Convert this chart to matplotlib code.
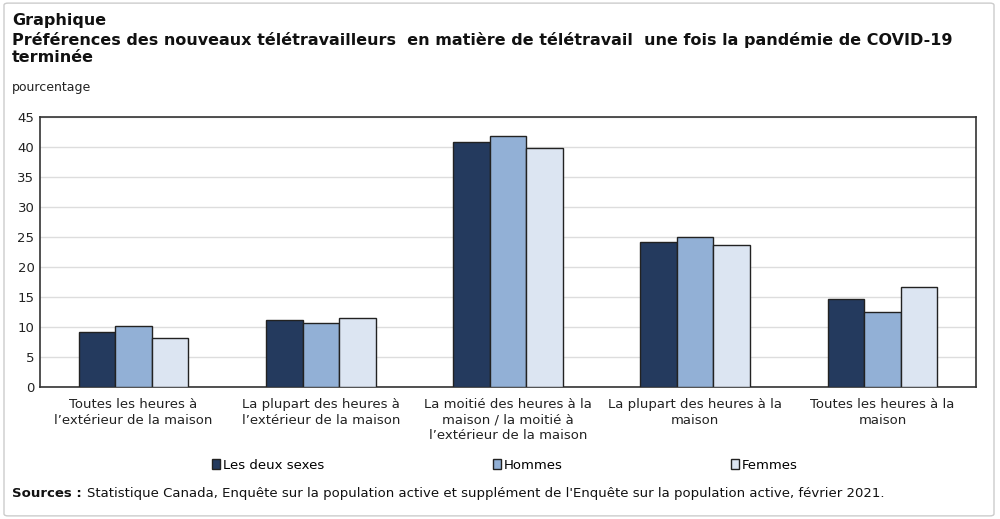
import matplotlib.pyplot as plt
import numpy as np
from matplotlib.patches import FancyBboxPatch

categories = [
    "Toutes les heures à\nl\u2019extérieur de la maison",
    "La plupart des heures à\nl\u2019extérieur de la maison",
    "La moitié des heures à la\nmaison / la moitié à\nl\u2019extérieur de la maison",
    "La plupart des heures à la\nmaison",
    "Toutes les heures à la\nmaison",
]
series_names = ["Les deux sexes", "Hommes", "Femmes"]
les_deux = [9.2, 11.2, 40.9, 24.2, 14.7]
hommes = [10.2, 10.6, 41.9, 25.0, 12.5]
femmes = [8.2, 11.5, 39.9, 23.6, 16.7]
yticks = list(range(0, 50, 5))

colors = ["#243a5e", "#92b0d6", "#dce5f2"]

plt.rcParams["font.family"] = ["DejaVu Sans"]

fig = plt.figure(figsize=(10, 5.19), dpi=100)
ax = fig.add_axes([0.04, 0.2543, 0.936, 0.5203])

# light rounded frame around the whole graphic
fig.patches.append(FancyBboxPatch((0.004, 0.006), 0.99, 0.988, boxstyle="round,pad=0,rounding_size=0.004",
                                  transform=fig.transFigure, fill=False, edgecolor="#cccccc", linewidth=1))

x = np.arange(len(categories))
w = 0.195
for k, vals in enumerate([les_deux, hommes, femmes]):
    ax.bar(x + (k - 1) * w, vals, w, color=colors[k], edgecolor="#222222",
           linewidth=1, label=series_names[k], zorder=3)

ax.set_xlim(-0.5, len(categories) - 0.5)
ax.set_ylim(0, 45)
ax.set_yticks(yticks)
ax.set_yticklabels([str(t) for t in yticks], fontsize=9.5, color="#222222")
ax.set_xticks(x)
ax.set_xticklabels(categories, fontsize=9.5, color="#222222", linespacing=1.25)
ax.tick_params(axis="both", length=0, pad=4)
ax.tick_params(axis="x", pad=8)
ax.yaxis.grid(True, color="#dddddd", linewidth=1, zorder=0)
for s in ax.spines.values():
    s.set_color("#333333")
    s.set_linewidth(1.2)

fig.text(0.012, 0.975, "Graphique", fontsize=11.5, fontweight="bold", va="top", color="#111111")
fig.text(0.012, 0.938,
         "Préférences des nouveaux télétravailleurs  en matière de télétravail  une fois la pandémie de COVID-19\nterminée",
         fontsize=11.5, fontweight="bold", va="top", color="#111111", linespacing=1.15)
fig.text(0.012, 0.832, "pourcentage", fontsize=9, va="center", color="#222222")

leg = fig.legend(loc="center", bbox_to_anchor=(0.505, 0.104), ncol=3, frameon=False,
                 fontsize=9.5, handlelength=0.6, handleheight=0.8, handletextpad=0.2,
                 columnspacing=12.8)

fig.text(0.012, 0.049, "Sources :", fontsize=9.5, fontweight="bold", va="center", color="#111111")
fig.text(0.087, 0.049,
         "Statistique Canada, Enquête sur la population active et supplément de l'Enquête sur la population active, février 2021.",
         fontsize=9.5, va="center", color="#111111")

fig.savefig("out.png", dpi=100)
